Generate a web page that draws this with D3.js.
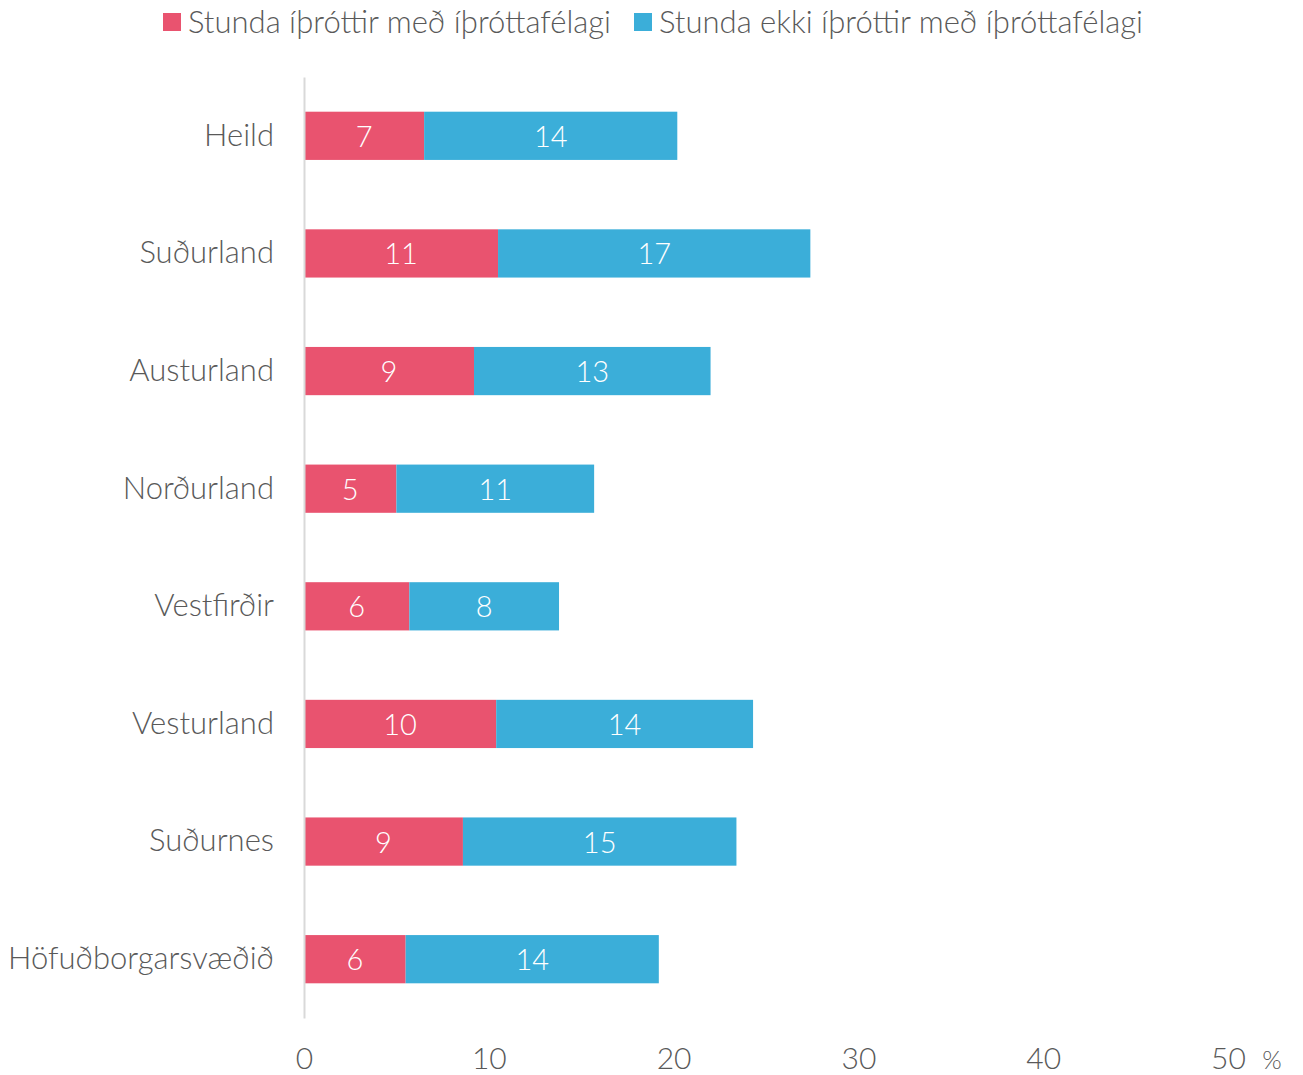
<!DOCTYPE html>
<html>
<head>
<meta charset="utf-8">
<script src="https://cdn.jsdelivr.net/npm/d3@7"></script>
<style>
  body { margin: 0; background: #fff; }
  text { font-family: "Lato", "Open Sans", sans-serif; font-weight: 300; }
</style>
</head>
<body>
<div id="chart"></div>
<script>
// data
var regions = ["Heild", "Suðurland", "Austurland", "Norðurland", "Vestfirðir", "Vesturland", "Suðurnes", "Höfuðborgarsvæðið"];
var withClub = [6.5, 10.5, 9.2, 5.0, 5.7, 10.4, 8.6, 5.5];
var withoutClub = [13.7, 16.9, 12.8, 10.7, 8.1, 13.9, 14.8, 13.7];
var seriesNames = ["Stunda íþróttir með íþróttafélagi", "Stunda ekki íþróttir með íþróttafélagi"];
var seriesColors = ["#E9536F", "#3BAED9"];
var xTicks = [0, 10, 20, 30, 40, 50];

var width = 1303, height = 1075;
var margin = {left: 304, right: 75, top: 77, bottom: 57};
var textColor = "#595959";

var svg = d3.select("#chart").append("svg").attr("width", width).attr("height", height);

var x = d3.scaleLinear().domain([0, 50]).range([margin.left, width - margin.right]);
var y = d3.scaleBand().domain(regions).range([margin.top, height - margin.bottom]).paddingInner(0.59).paddingOuter(0.295);

var rows = regions.map(function(r, i) {
  return {region: r, a: withClub[i], b: withoutClub[i]};
});

// red part
svg.selectAll("rect.a").data(rows).enter().append("rect")
  .attr("class", "a")
  .attr("x", x(0))
  .attr("y", function(d) { return y(d.region); })
  .attr("width", function(d) { return x(d.a) - x(0); })
  .attr("height", y.bandwidth())
  .attr("fill", seriesColors[0]);

// blue part
svg.selectAll("rect.b").data(rows).enter().append("rect")
  .attr("class", "b")
  .attr("x", function(d) { return x(d.a); })
  .attr("y", function(d) { return y(d.region); })
  .attr("width", function(d) { return x(d.a + d.b) - x(d.a); })
  .attr("height", y.bandwidth())
  .attr("fill", seriesColors[1]);

// value labels
svg.selectAll("text.la").data(rows).enter().append("text")
  .attr("x", function(d) { return (x(0) + x(d.a)) / 2; })
  .attr("y", function(d) { return y(d.region) + y.bandwidth() / 2; })
  .attr("dy", "0.38em").attr("text-anchor", "middle")
  .attr("fill", "#fff").attr("font-size", 29)
  .text(function(d) { return Math.round(d.a); });

svg.selectAll("text.lb").data(rows).enter().append("text")
  .attr("x", function(d) { return (x(d.a) + x(d.a + d.b)) / 2; })
  .attr("y", function(d) { return y(d.region) + y.bandwidth() / 2; })
  .attr("dy", "0.38em").attr("text-anchor", "middle")
  .attr("fill", "#fff").attr("font-size", 29)
  .text(function(d) { return Math.round(d.b); });

// y axis
var yAxis = svg.append("g").attr("transform", "translate(" + x(0) + ",0)")
  .call(d3.axisLeft(y).tickSize(0).tickPadding(30));
yAxis.select(".domain").attr("stroke", "#d9d9d9").attr("stroke-width", 2);
yAxis.selectAll("text").attr("fill", textColor).attr("font-size", 31).attr("font-family", null);

// x axis labels only
var xAxis = svg.append("g").attr("transform", "translate(0," + (height - margin.bottom) + ")")
  .call(d3.axisBottom(x).tickValues(xTicks).tickSize(0).tickPadding(30));
xAxis.select(".domain").remove();
xAxis.selectAll("text").attr("fill", textColor).attr("font-size", 30).attr("font-family", null);

svg.append("text").attr("x", 1272).attr("y", 1069).attr("text-anchor", "middle")
  .attr("fill", textColor).attr("font-size", 25).text("%");

// legend
var legendX = [163, 634];
var legend = svg.selectAll("g.leg").data(seriesNames).enter().append("g")
  .attr("transform", function(d, i) { return "translate(" + legendX[i] + ",13)"; });
legend.append("rect").attr("width", 18).attr("height", 18)
  .attr("fill", function(d, i) { return seriesColors[i]; });
legend.append("text").attr("x", 25).attr("y", 9).attr("dy", "0.36em")
  .attr("fill", textColor).attr("font-size", 31)
  .text(function(d) { return d; });
</script>
</body>
</html>
